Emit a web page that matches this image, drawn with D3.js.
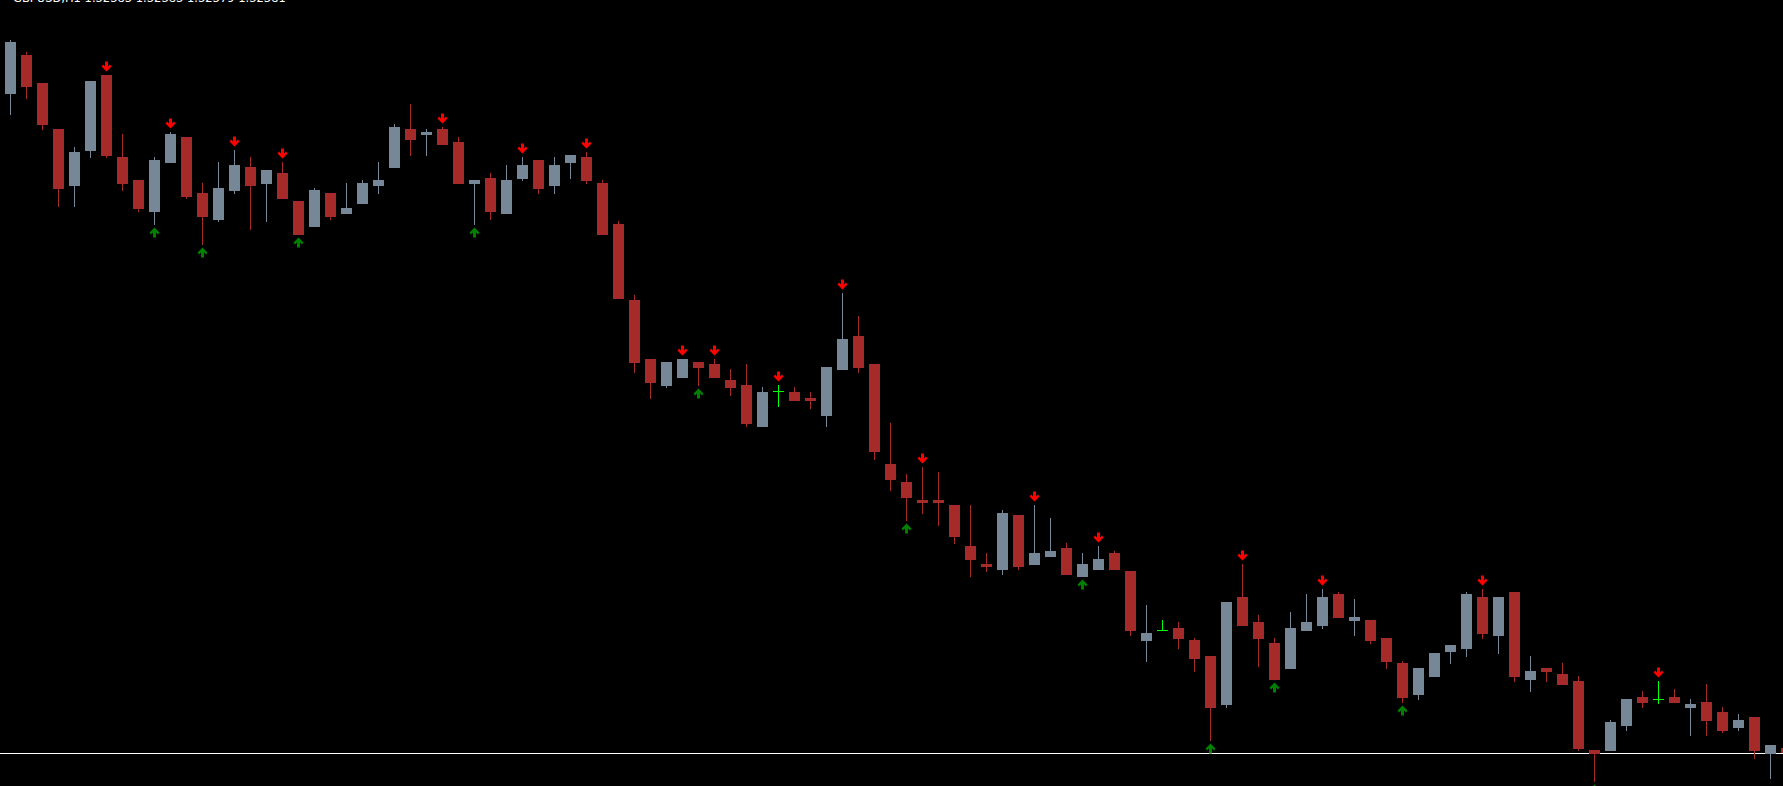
<!DOCTYPE html>
<html><head><meta charset="utf-8">
<script src="https://cdn.jsdelivr.net/npm/d3@7"></script>
<style>html,body{margin:0;padding:0;background:#000;overflow:hidden}</style>
</head><body><svg id="c" width="1783" height="786"></svg>
<script>
const titleText = "GBPUSD,H1  1.32383 1.32383 1.32379 1.32381";

const openP = [
1.33040,1.33079,1.33051,1.33005,1.32948,1.32983,1.33059,1.32977,1.32954,1.32922,
1.32971,1.32997,1.32941,1.32914,1.32943,1.32967,1.32950,1.32961,1.32933,1.32907,
1.32941,1.32920,1.32930,1.32948,1.32966,1.33005,1.32999,1.33005,1.32992,1.32950,
1.32956,1.32920,1.32955,1.32974,1.32948,1.32971,1.32977,1.32951,1.32910,1.32834,
1.32775,1.32748,1.32756,1.32772,1.32770,1.32754,1.32749,1.32707,1.32743,1.32742,
1.32736,1.32718,1.32764,1.32798,1.32770,1.32670,1.32652,1.32634,1.32634,1.32629,
1.32588,1.32570,1.32564,1.32619,1.32569,1.32577,1.32586,1.32557,1.32564,1.32581,
1.32563,1.32493,1.32504,1.32506,1.32494,1.32478,1.32429,1.32537,1.32512,1.32491,
1.32465,1.32503,1.32508,1.32540,1.32513,1.32514,1.32496,1.32471,1.32439,1.32457,
1.32482,1.32485,1.32537,1.32498,1.32542,1.32454,1.32466,1.32460,1.32453,1.32384,
1.32383,1.32408,1.32437,1.32435,1.32437,1.32426,1.32432,1.32422,1.32406,1.32417,
1.32380,1.32386];
const highP = [
1.33094,1.33082,1.33051,1.33005,1.32987,1.33053,1.33059,1.33000,1.32954,1.32977,
1.33002,1.32997,1.32951,1.32972,1.32984,1.32977,1.32964,1.32972,1.32933,1.32946,
1.32941,1.32951,1.32954,1.32972,1.33010,1.33030,1.33005,1.33007,1.32997,1.32954,
1.32961,1.32969,1.32977,1.32974,1.32977,1.32979,1.32982,1.32954,1.32913,1.32839,
1.32775,1.32772,1.32775,1.32772,1.32775,1.32765,1.32770,1.32747,1.32749,1.32747,
1.32742,1.32767,1.32841,1.32818,1.32770,1.32711,1.32660,1.32667,1.32662,1.32629,
1.32629,1.32581,1.32624,1.32619,1.32629,1.32616,1.32591,1.32581,1.32588,1.32583,
1.32563,1.32529,1.32514,1.32512,1.32496,1.32478,1.32532,1.32570,1.32519,1.32496,
1.32522,1.32540,1.32545,1.32542,1.32535,1.32514,1.32496,1.32473,1.32466,1.32481,
1.32489,1.32542,1.32545,1.32537,1.32542,1.32478,1.32466,1.32471,1.32458,1.32384,
1.32414,1.32435,1.32443,1.32453,1.32445,1.32435,1.32450,1.32427,1.32420,1.32417,
1.32389,1.32386];
const lowP = [
1.33019,1.33035,1.33004,1.32927,1.32927,1.32976,1.32976,1.32943,1.32922,1.32909,
1.32971,1.32935,1.32889,1.32912,1.32940,1.32904,1.32912,1.32935,1.32899,1.32907,
1.32914,1.32920,1.32930,1.32940,1.32966,1.32978,1.32978,1.32989,1.32950,1.32909,
1.32914,1.32920,1.32953,1.32940,1.32940,1.32955,1.32950,1.32899,1.32835,1.32761,
1.32735,1.32746,1.32756,1.32748,1.32756,1.32738,1.32707,1.32707,1.32728,1.32733,
1.32725,1.32707,1.32764,1.32761,1.32674,1.32643,1.32613,1.32620,1.32608,1.32590,
1.32557,1.32562,1.32559,1.32564,1.32569,1.32577,1.32559,1.32557,1.32564,1.32564,
1.32498,1.32472,1.32504,1.32485,1.32462,1.32393,1.32426,1.32508,1.32467,1.32454,
1.32465,1.32503,1.32505,1.32516,1.32498,1.32490,1.32465,1.32431,1.32434,1.32457,
1.32470,1.32477,1.32495,1.32480,1.32452,1.32442,1.32452,1.32449,1.32383,1.32352,
1.32383,1.32403,1.32426,1.32431,1.32431,1.32398,1.32398,1.32401,1.32403,1.32375,
1.32355,1.32379];
const closeP = [
1.33092,1.33047,1.33009,1.32945,1.32982,1.33053,1.32978,1.32950,1.32925,1.32974,
1.33000,1.32937,1.32917,1.32946,1.32969,1.32948,1.32964,1.32935,1.32899,1.32944,
1.32917,1.32926,1.32951,1.32954,1.33007,1.32994,1.33002,1.32989,1.32950,1.32954,
1.32922,1.32954,1.32969,1.32945,1.32969,1.32979,1.32953,1.32899,1.32835,1.32771,
1.32751,1.32772,1.32775,1.32766,1.32756,1.32746,1.32710,1.32742,1.32743,1.32733,
1.32733,1.32767,1.32795,1.32766,1.32682,1.32654,1.32636,1.32631,1.32631,1.32597,
1.32574,1.32567,1.32621,1.32567,1.32581,1.32583,1.32559,1.32570,1.32575,1.32564,
1.32503,1.32501,1.32504,1.32495,1.32475,1.32426,1.32532,1.32508,1.32495,1.32454,
1.32506,1.32512,1.32537,1.32516,1.32517,1.32493,1.32472,1.32436,1.32466,1.32481,
1.32489,1.32540,1.32500,1.32537,1.32457,1.32463,1.32462,1.32449,1.32385,1.32380,
1.32412,1.32435,1.32431,1.32435,1.32431,1.32430,1.32413,1.32403,1.32414,1.32383,
1.32389,1.32381];

const sellSignals = [6,10,14,17,27,32,36,42,44,48,52,57,64,68,77,82,92,103];
const buySignals = [9,12,18,29,43,56,67,75,79,87,99];
const bidPrice = 1.32381;

const W = 1783, H = 786;
const svg = d3.select("#c");
svg.append("rect").attr("width", W).attr("height", H).attr("fill", "#000");

const x = d3.scaleLinear().domain([0, openP.length - 1]).range([10.5, 10.5 + 16 * (openP.length - 1)]);
const y = d3.scaleLinear().domain([1.32348, 1.33134]).range([H, 0]);
const py = p => Math.round(y(p));

const BULL = "#768898", BEAR = "#a52a2a", DOJI = "#00ff00";

// bid line
svg.append("rect").attr("x", 0).attr("width", W).attr("y", py(bidPrice)).attr("height", 1).attr("fill", "#ffffff");

const g = svg.append("g").attr("shape-rendering", "crispEdges");
const data = openP.map((o, i) => ({i, o, h: highP[i], l: lowP[i], c: closeP[i]}));

data.forEach(d => {
  const cx = x(d.i);
  const yh = py(d.h), yl = py(d.l);
  if (d.o === d.c) {
    const yo = py(d.o);
    g.append("rect").attr("x", cx - 0.5).attr("width", 1).attr("y", yh).attr("height", Math.max(1, yl - yh + 1)).attr("fill", DOJI);
    g.append("rect").attr("x", cx - 5.5).attr("width", 11).attr("y", yo).attr("height", 1).attr("fill", DOJI);
  } else {
    const col = d.c > d.o ? BULL : BEAR;
    const yt = py(Math.max(d.o, d.c)), yb = py(Math.min(d.o, d.c));
    g.append("rect").attr("x", cx - 0.5).attr("width", 1).attr("y", yh).attr("height", yl - yh).attr("fill", col);
    g.append("rect").attr("x", cx - 5.5).attr("width", 11).attr("y", yt).attr("height", Math.max(1, yb - yt)).attr("fill", col);
  }
});

// arrow shape, tip at (0,0) pointing down
const arrowDown = "M-1.5,-10 L1.5,-10 L1.5,-5 L3.5,-7 L5,-5 L0,0 L-5,-5 L-3.5,-7 L-1.5,-5 Z";
const arrowUp = "M-1.5,10 L1.5,10 L1.5,5 L3.5,7 L5,5 L0,0 L-5,5 L-3.5,7 L-1.5,5 Z";

svg.selectAll("path.sell").data(sellSignals).join("path")
  .attr("class", "sell")
  .attr("d", arrowDown)
  .attr("transform", i => `translate(${x(i)},${py(highP[i]) - 3.5})`)
  .attr("fill", "#ff0000");

svg.selectAll("path.buy").data(buySignals).join("path")
  .attr("class", "buy")
  .attr("d", arrowUp)
  .attr("transform", i => `translate(${x(i)},${py(lowP[i]) + 2.5})`)
  .attr("fill", "#008000");

svg.append("text").attr("x", 13).attr("y", 2)
  .attr("font-family", "DejaVu Sans, sans-serif").attr("font-size", 11.5)
  .attr("fill", "#ffffff").text(titleText);
</script>
</body></html>
